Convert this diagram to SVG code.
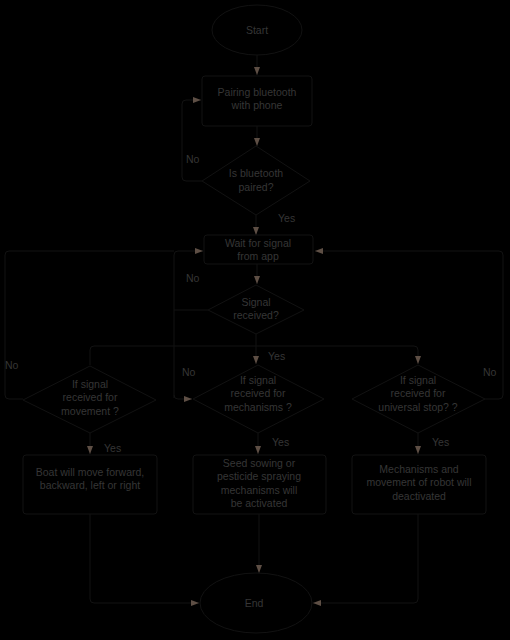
<svg xmlns="http://www.w3.org/2000/svg" width="510" height="640" viewBox="0 0 510 640">
<defs>
<style>
.n{fill:none;stroke:#121212;stroke-width:1}
.c{fill:none;stroke:#121212;stroke-width:1}
.t{font-family:"Liberation Sans",Arial,sans-serif;font-size:10.5px;fill:#363636;text-anchor:middle}
.l{font-family:"Liberation Sans",Arial,sans-serif;font-size:10.5px;fill:#363636}
</style>
<marker id="a" viewBox="0 0 8 6" refX="8" refY="3" markerWidth="8" markerHeight="6" orient="auto" markerUnits="userSpaceOnUse">
<path d="M0,0 L8,3 L0,6 Z" fill="#5e4f45"/>
</marker>
</defs>
<rect width="510" height="640" fill="#000"/>
<g id="connectors">
<path class="c" d="M257,55 V75" marker-end="url(#a)"/>
<path class="c" d="M257,126 V146" marker-end="url(#a)"/>
<path class="c" d="M202,181 H186 Q182,181 182,177 V104 Q182,100 186,100 H201" marker-end="url(#a)"/>
<path class="c" d="M256,215 V235" marker-end="url(#a)"/>
<path class="c" d="M208,310 H174"/>
<path class="c" d="M174,398 V255 Q174,251 178,251 H203" marker-end="url(#a)"/>
<path class="c" d="M174,395 Q174,399 178,399 H192" marker-end="url(#a)"/>
<path class="c" d="M23,399 H9 Q5,399 5,395 V255 Q5,251 9,251 H174"/>
<path class="c" d="M485,399 H499 Q503,399 503,395 V255 Q503,251 499,251 H315" marker-end="url(#a)"/>
<path class="c" d="M257,264 V284" marker-end="url(#a)"/>
<path class="c" d="M256,334 V364" marker-end="url(#a)"/>
<path class="c" d="M90,365 V350 Q90,346 94,346 H414 Q418,346 418,350 V364" marker-end="url(#a)"/>
<path class="c" d="M90,433 V454" marker-end="url(#a)"/>
<path class="c" d="M258,433 V454" marker-end="url(#a)"/>
<path class="c" d="M418,433 V454" marker-end="url(#a)"/>
<path class="c" d="M259,514 V573" marker-end="url(#a)"/>
<path class="c" d="M90,514 V599 Q90,603 94,603 H199" marker-end="url(#a)"/>
<path class="c" d="M418,514 V599 Q418,603 414,603 H313" marker-end="url(#a)"/>
</g>
<g id="labels">
<text class="l" x="186" y="163">No</text>
<text class="l" x="278" y="222">Yes</text>
<text class="l" x="186" y="282">No</text>
<text class="l" x="268" y="360">Yes</text>
<text class="l" x="5" y="369">No</text>
<text class="l" x="182" y="376">No</text>
<text class="l" x="483" y="376">No</text>
<text class="l" x="104" y="452">Yes</text>
<text class="l" x="272" y="446">Yes</text>
<text class="l" x="432" y="446">Yes</text>
</g>
<g id="start"><ellipse class="n" cx="257" cy="30" rx="45" ry="25"/><text class="t" x="257" y="34">Start</text></g>
<g id="pairing"><rect class="n" x="202" y="76" width="110" height="50" rx="3"/><text class="t" x="257" y="96">Pairing bluetooth</text><text class="t" x="257" y="109">with phone</text></g>
<g id="paired"><path class="n" d="M256,146 L310,181 L256,215 L202,181 Z"/><text class="t" x="256" y="177">Is bluetooth</text><text class="t" x="256" y="191">paired?</text></g>
<g id="wait"><rect class="n" x="204" y="235" width="109" height="29" rx="3"/><text class="t" x="258" y="247">Wait for signal</text><text class="t" x="258" y="260">from app</text></g>
<g id="received"><path class="n" d="M256,285 L304,310 L256,334 L208,310 Z"/><text class="t" x="256" y="306">Signal</text><text class="t" x="256" y="319">received?</text></g>
<g id="movement"><path class="n" d="M90,366 L156,400 L90,433 L23,400 Z"/><text class="t" x="90" y="388">If signal</text><text class="t" x="90" y="401">received for</text><text class="t" x="90" y="415">movement ?</text></g>
<g id="mechanisms"><path class="n" d="M258,365 L324,399 L258,433 L193,399 Z"/><text class="t" x="258" y="384">If signal</text><text class="t" x="258" y="397">received for</text><text class="t" x="258" y="411">mechanisms ?</text></g>
<g id="stop"><path class="n" d="M418,365 L485,399 L418,433 L352,399 Z"/><text class="t" x="418" y="384">If signal</text><text class="t" x="418" y="397">received for</text><text class="t" x="418" y="411">universal stop? ?</text></g>
<g id="boat"><rect class="n" x="23" y="455" width="134" height="59" rx="3"/><text class="t" x="90" y="476">Boat will move forward,</text><text class="t" x="90" y="489">backward, left or right</text></g>
<g id="seed"><rect class="n" x="193" y="455" width="133" height="59" rx="3"/><text class="t" x="259" y="467">Seed sowing or</text><text class="t" x="259" y="480">pesticide spraying</text><text class="t" x="259" y="494">mechanisms will</text><text class="t" x="259" y="507">be activated</text></g>
<g id="deactivate"><rect class="n" x="352" y="455" width="134" height="59" rx="3"/><text class="t" x="419" y="473">Mechanisms and</text><text class="t" x="419" y="486">movement of robot will</text><text class="t" x="419" y="500">deactivated</text></g>
<g id="end"><ellipse class="n" cx="256" cy="603" rx="56" ry="30"/><text class="t" x="254" y="607">End</text></g>
</svg>
